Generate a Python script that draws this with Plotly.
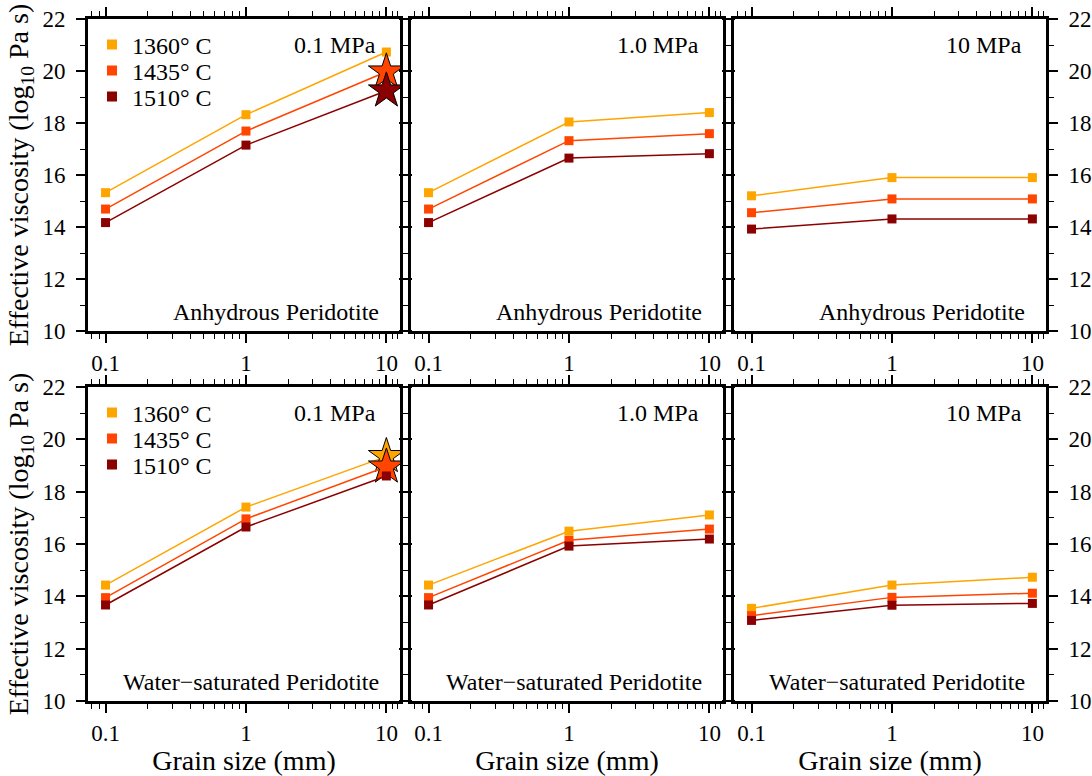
import math
import plotly.graph_objects as go

# ---------------- data ----------------
grain_mm = [0.1, 1, 10]
temps = ["1360° C", "1435° C", "1510° C"]
colors = ["#FFA500", "#FF4500", "#8B0000"]
pressures = ["0.1 MPa", "1.0 MPa", "10 MPa"]
rocks = ["Anhydrous Peridotite", "Water\u2212saturated Peridotite"]

# Anhydrous peridotite, log10 viscosity (Pa s)
anh_01_1360 = [15.32, 18.32, 20.73]
anh_01_1435 = [14.69, 17.69, 19.97]
anh_01_1510 = [14.17, 17.15, 19.24]
anh_1_1360 = [15.32, 18.04, 18.40]
anh_1_1435 = [14.69, 17.32, 17.59]
anh_1_1510 = [14.17, 16.65, 16.82]
anh_10_1360 = [15.20, 15.90, 15.90]
anh_10_1435 = [14.55, 15.08, 15.08]
anh_10_1510 = [13.92, 14.31, 14.31]

# Water-saturated peridotite
wet_01_1360 = [14.43, 17.41, 19.35]
wet_01_1435 = [13.95, 16.96, 18.95]
wet_01_1510 = [13.67, 16.65, 18.60]
wet_1_1360 = [14.43, 16.49, 17.11]
wet_1_1435 = [13.95, 16.14, 16.57]
wet_1_1510 = [13.67, 15.92, 16.19]
wet_10_1360 = [13.54, 14.43, 14.73]
wet_10_1435 = [13.26, 13.96, 14.12]
wet_10_1510 = [13.08, 13.66, 13.73]

# series whose 10 mm point is flagged with a star (by temperature index)
anh_star_temps = [1, 2]
wet_star_temps = [0, 1]

x_ticks = [0.1, 1, 10]
x_ticktext = ["0.1", "1", "10"]
x_minor = [0.08, 0.09, 0.2, 0.3, 0.4, 0.5, 0.6, 0.7, 0.8, 0.9,
           2, 3, 4, 5, 6, 7, 8, 9, 11, 12]
y_ticks = [10, 12, 14, 16, 18, 20, 22]

panels = [
    [anh_01_1360, anh_01_1435, anh_01_1510],
    [anh_1_1360, anh_1_1435, anh_1_1510],
    [anh_10_1360, anh_10_1435, anh_10_1510],
    [wet_01_1360, wet_01_1435, wet_01_1510],
    [wet_1_1360, wet_1_1435, wet_1_1510],
    [wet_10_1360, wet_10_1435, wet_10_1510],
]

# ---------------- layout geometry ----------------
W, H = 1092, 776
FONT = "Liberation Serif, Times New Roman, serif"
col_px = [(88, 400), (411, 723), (734, 1046)]
row_px = [(19, 331), (387, 701)]
legend_rows_px = [[45, 71, 97], [413, 439, 465]]
x_label_standoff = [0, 0]

fig = go.Figure()
layout = dict(
    width=W, height=H,
    margin=dict(l=0, r=0, t=0, b=0, autoexpand=False),
    paper_bgcolor="white", plot_bgcolor="white",
    font=dict(family=FONT, size=23, color="black"),
    showlegend=True,
)

leg_common = dict(font=dict(family=FONT, size=24), bgcolor="rgba(0,0,0,0)",
                  borderwidth=0, xanchor="left", yanchor="middle",
                  itemclick=False, itemdoubleclick=False, tracegroupgap=0)

for p in range(6):
    r, c = divmod(p, 3)
    idx = "" if p == 0 else str(p + 1)
    xa, ya = "x" + idx, "y" + idx
    series = panels[p]
    star_set = (anh_star_temps if r == 0 else wet_star_temps) if c == 0 else []
    for t in range(3):
        vals = series[t]
        symbols = ["square"] * len(vals)
        sizes = [9] * len(vals)
        lw = [0] * len(vals)
        if t in star_set:
            symbols[-1] = "star"
            sizes[-1] = 27
            lw[-1] = 1
        fig.add_trace(go.Scatter(
            x=grain_mm, y=vals, xaxis=xa, yaxis=ya, mode="lines+markers",
            line=dict(color=colors[t], width=1.5),
            marker=dict(symbol=symbols, size=sizes, color=colors[t], opacity=1,
                        line=dict(color="black", width=lw)),
            showlegend=False, hoverinfo="skip"))
    # legend entries in the left column (one legend box per entry)
    if c == 0:
        for t in range(3):
            ln = 3 * r + t + 1
            lname = "legend" if ln == 1 else "legend%d" % ln
            fig.add_trace(go.Scatter(
                x=[None], y=[None], xaxis=xa, yaxis=ya, mode="markers",
                marker=dict(symbol="square", size=10, color=colors[t]),
                name=temps[t], showlegend=True, legend=lname))
            layout[lname] = dict(leg_common, x=92 / W,
                                 y=1 - legend_rows_px[r][t] / H)

    x0, x1 = col_px[c]
    y0, y1 = row_px[r]
    axis_common = dict(showline=True, linewidth=3, linecolor="black",
                       mirror="allticks", ticks="outside", tickwidth=1.5,
                       tickcolor="black", showgrid=False, zeroline=False,
                       automargin=False,
                       tickfont=dict(family=FONT, size=23))
    xax = dict(
        axis_common, type="log", anchor=ya,
        domain=[x0 / W, x1 / W],
        range=[math.log10(0.075), math.log10(12.5)],
        tickmode="array", tickvals=x_ticks, ticktext=x_ticktext, ticklen=9,
        ticklabelstandoff=x_label_standoff[r],
        minor=dict(tickmode="array", tickvals=x_minor, ticks="outside",
                   ticklen=5, tickwidth=1.2, tickcolor="black"),
    )
    if r == 1:
        xax["title"] = dict(text="Grain size (mm)",
                            font=dict(family=FONT, size=28), standoff=0)
    layout["xaxis" + idx] = xax
    yax = dict(
        axis_common, anchor=xa,
        domain=[1 - y1 / H, 1 - y0 / H],
        range=[10, 22], tickmode="array", tickvals=y_ticks, ticklen=9,
        minor=dict(dtick=1, ticks="outside", ticklen=5, tickwidth=1.2,
                   tickcolor="black"),
        showticklabels=(c != 1),
        side="right" if c == 2 else "left",
        ticklabelstandoff=6,
    )
    if c == 0:
        yax["title"] = dict(text="Effective viscosity (log<sub>10</sub> Pa s)",
                            font=dict(family=FONT, size=28), standoff=6)
    layout["yaxis" + idx] = yax

annotations = []
for p in range(6):
    r, c = divmod(p, 3)
    idx = "" if p == 0 else str(p + 1)
    annotations.append(dict(
        text=pressures[c], xref="x" + idx + " domain", yref="y" + idx + " domain",
        x=1, y=1, xanchor="right", yanchor="middle", xshift=-22, yshift=-26,
        showarrow=False, font=dict(family=FONT, size=24)))
    annotations.append(dict(
        text=rocks[r], xref="x" + idx + " domain", yref="y" + idx + " domain",
        x=1, y=0, xanchor="right", yanchor="middle", xshift=-19, yshift=19,
        showarrow=False, font=dict(family=FONT, size=24)))
layout["annotations"] = annotations

fig.update_layout(**layout)
fig.write_html("out.html")
